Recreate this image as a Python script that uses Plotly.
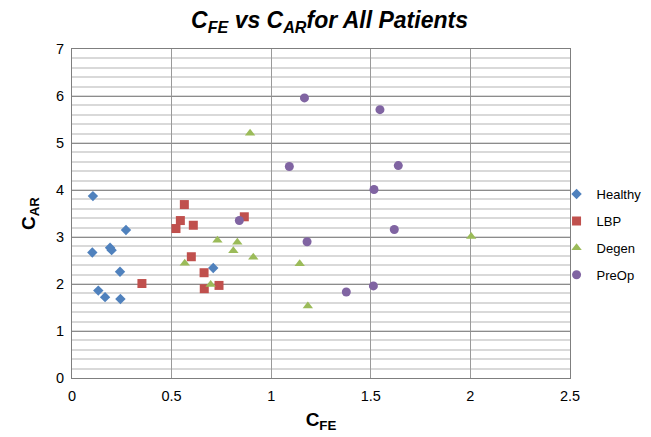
import plotly.graph_objects as go

healthy_x = [0.105, 0.271, 0.102, 0.191, 0.199, 0.241, 0.132, 0.166, 0.243, 0.709]
healthy_y = [3.87, 3.15, 2.67, 2.77, 2.72, 2.26, 1.86, 1.72, 1.68, 2.34]

lbp_x = [0.564, 0.544, 0.522, 0.609, 0.865, 0.599, 0.351, 0.663, 0.664, 0.738]
lbp_y = [3.69, 3.35, 3.18, 3.25, 3.43, 2.58, 2.01, 2.24, 1.90, 1.97]

degen_x = [0.894, 0.730, 0.830, 0.810, 0.566, 0.910, 0.696, 1.143, 1.184, 2.004]
degen_y = [5.21, 2.93, 2.89, 2.71, 2.44, 2.57, 1.99, 2.43, 1.53, 3.01]

preop_x = [1.167, 1.091, 0.840, 1.180, 1.546, 1.638, 1.516, 1.618, 1.377, 1.513]
preop_y = [5.96, 4.50, 3.35, 2.90, 5.71, 4.52, 4.01, 3.16, 1.83, 1.96]

x_ticks = [0, 0.5, 1, 1.5, 2, 2.5]
x_tick_labels = ["0", "0.5", "1", "1.5", "2", "2.5"]
y_ticks = [0, 1, 2, 3, 4, 5, 6, 7]

fig = go.Figure()
series = [
    ("Healthy", healthy_x, healthy_y, "diamond", "#4F81BD", 8),
    ("LBP", lbp_x, lbp_y, "square", "#C0504D", 9),
    ("Degen", degen_x, degen_y, "triangle-up", "#9BBB59", 9),
    ("PreOp", preop_x, preop_y, "circle", "#8064A2", 9),
]
for name, xs, ys, sym, col, sz in series:
    fig.add_trace(go.Scatter(x=xs, y=ys, mode="markers", name=name, legendgroup=name,
                             marker=dict(symbol=sym, color=col, size=sz, line=dict(width=0))))

# page body has an 8px default margin, so figure is 643x429 and offsets are reduced by 8
fig.update_layout(
    width=643, height=429,
    margin=dict(l=64, r=81, t=41, b=59, autoexpand=False),
    paper_bgcolor="white", plot_bgcolor="white",
    font=dict(family="Liberation Sans, Arial, sans-serif", color="black", size=13),
    title=dict(text="<b><i>C<sub>FE</sub> vs C<sub>AR</sub>for All Patients</i></b>",
               x=0.5, xanchor="center", y=0.972, yanchor="middle",
               font=dict(size=23)),
    showlegend=True,
    legend=dict(x=0.973, xanchor="left", y=0.436, yanchor="middle",
                font=dict(size=13), tracegroupgap=7,
                bgcolor="rgba(0,0,0,0)"),
    xaxis=dict(range=[0, 2.5], tickvals=x_ticks, ticktext=x_tick_labels,
               showgrid=True, gridcolor="#9a9a9a", gridwidth=1,
               showline=True, linecolor="#7f7f7f", linewidth=1, mirror=True,
               zeroline=False, ticks="", tickfont=dict(size=14.5), ticklabelstandoff=5,
               title=dict(text="<b>C<sub>FE</sub></b>", font=dict(size=19), standoff=9)),
    yaxis=dict(range=[0, 7], tickvals=y_ticks,
               showgrid=True, gridcolor="#8c8c8c", gridwidth=1,
               minor=dict(dtick=0.2, showgrid=True, gridcolor="#d9d9d9", gridwidth=1.5),
               showline=True, linecolor="#7f7f7f", linewidth=1, mirror=True,
               zeroline=False, ticks="", tickfont=dict(size=14.5), ticklabelstandoff=4,
               title=dict(text="<b>C<sub>AR</sub></b>", font=dict(size=19), standoff=15)),
)

fig.write_html("out.html")
